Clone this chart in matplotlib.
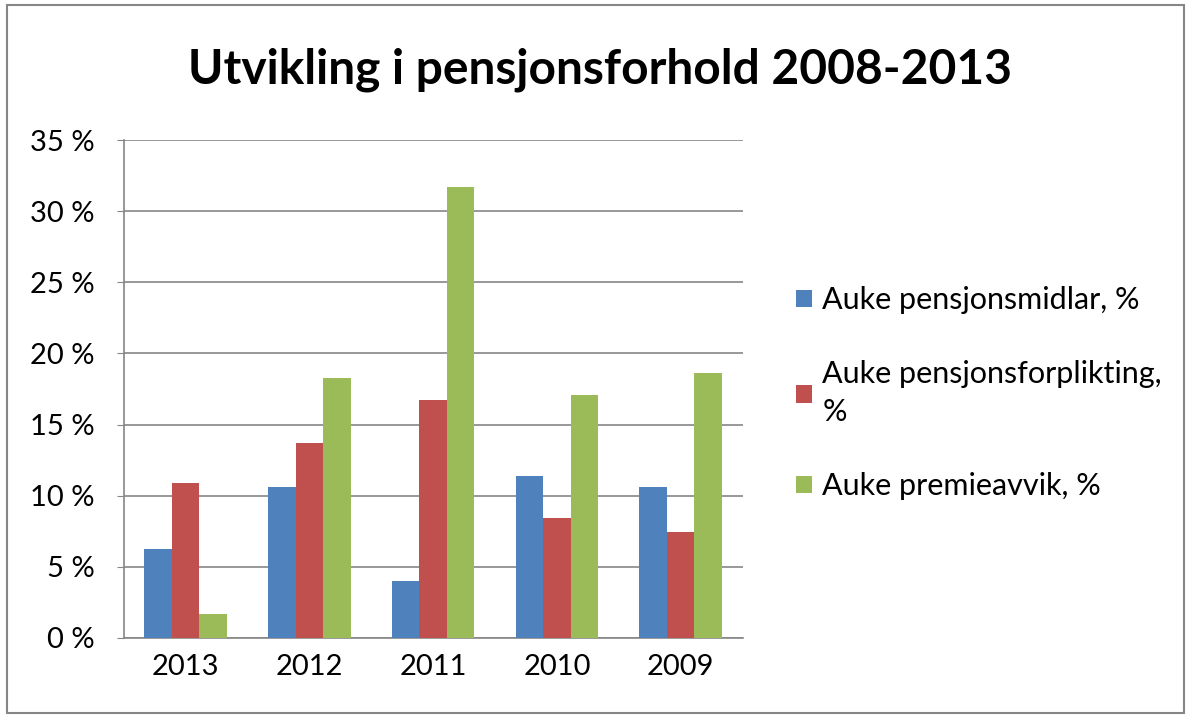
import matplotlib.pyplot as plt
from matplotlib.ticker import FuncFormatter, MultipleLocator
from matplotlib.patches import Rectangle
import numpy as np

plt.rcParams['font.family'] = ['Lato', 'DejaVu Sans']

# data
years = ["2013", "2012", "2011", "2010", "2009"]
pensjonsmidlar = [6.25, 10.6, 4.0, 11.35, 10.6]
pensjonsforplikting = [10.9, 13.7, 16.7, 8.45, 7.45]
premieavvik = [1.7, 18.25, 31.7, 17.1, 18.6]

labels = ["Auke pensjonsmidlar, %", "Auke pensjonsforplikting,\n%", "Auke premieavvik, %"]
colors = ["#4f81bd", "#c0504d", "#9bbb59"]

fig = plt.figure(figsize=(11.9, 7.15), dpi=100)
ax = fig.add_axes([0.104, 0.108, 0.520, 0.696])

x = np.arange(len(years))
w = 0.222
for i, (vals, lab, col) in enumerate(zip([pensjonsmidlar, pensjonsforplikting, premieavvik], labels, colors)):
    ax.bar(x + (i - 1) * w, vals, width=w, color=col, label=lab, zorder=3)

ax.set_xlim(-0.5, len(years) - 0.5)
ax.set_ylim(0, 35)
ax.yaxis.set_major_locator(MultipleLocator(5))
ax.yaxis.set_major_formatter(FuncFormatter(lambda v, p: "%d %%" % v))
ax.set_xticks(x)
ax.set_xticklabels(years)
ax.tick_params(axis='y', length=5, color='#868686', labelsize=21, pad=16)
ax.tick_params(axis='x', length=0, labelsize=21, pad=12)
ax.grid(axis='y', color='#868686', linewidth=1.2, zorder=0)
for s in ['top', 'right']:
    ax.spines[s].set_visible(False)
for s in ['left', 'bottom']:
    ax.spines[s].set_color('#868686')
    ax.spines[s].set_linewidth(1.2)

fig.suptitle("Utvikling i pensjonsforhold 2008-2013", x=0.504, y=0.902, va='center',
             fontsize=34.5, fontweight='bold')

leg = ax.legend(loc='center left', bbox_to_anchor=(0.646, 0.45), bbox_transform=fig.transFigure,
                frameon=False, fontsize=22, handlelength=0.5, handleheight=0.5,
                handletextpad=0.35, labelspacing=1.5)
for t in leg.get_texts():
    t.set_linespacing(1.45)

# outer border of the chart
fig.patches.append(Rectangle((0.006, 0.003), 0.989, 0.99, transform=fig.transFigure,
                             fill=False, edgecolor='#868686', linewidth=1.5))

plt.savefig("out.png")
